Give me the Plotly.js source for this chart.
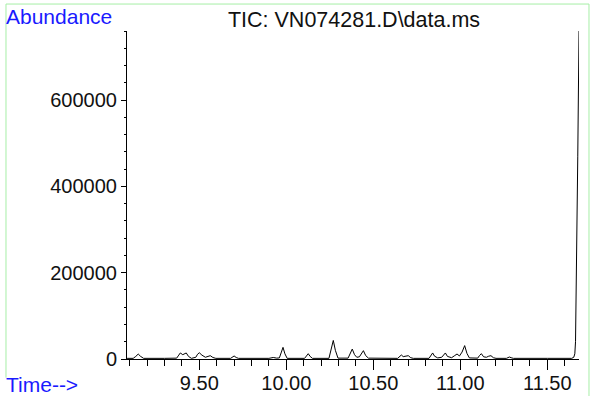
<!DOCTYPE html>
<html>
<head>
<meta charset="utf-8">
<script src="https://cdn.plot.ly/plotly-3.0.1.min.js"></script>
<style>
html,body{margin:0;padding:0;background:#fff;}
#chart{width:592px;height:396px;}
</style>
</head>
<body>
<div id="chart"></div>
<script>
// Retention time (min)
var time = [
  9.085, 9.120, 9.135, 9.149, 9.163, 9.180, 9.300,
  9.370, 9.382, 9.391, 9.405, 9.415, 9.425, 9.438, 9.455,
  9.480, 9.490, 9.500, 9.515, 9.535, 9.548, 9.563, 9.578, 9.595,
  9.680, 9.690, 9.700, 9.712, 9.725,
  9.900, 9.915, 9.925, 9.945,
  9.960, 9.970, 9.981, 9.992, 10.005,
  10.105, 10.115, 10.126, 10.137, 10.150,
  10.245, 10.258, 10.270, 10.282, 10.297,
  10.355, 10.367, 10.379, 10.392, 10.405, 10.420, 10.432, 10.443, 10.456, 10.472,
  10.640, 10.652, 10.661, 10.672, 10.682, 10.701, 10.715, 10.730,
  10.820, 10.831, 10.841, 10.852, 10.870, 10.893, 10.904, 10.914, 10.926,
  10.950, 10.968, 10.981, 10.995, 11.010, 11.025, 11.038, 11.052,
  11.100, 11.110, 11.121, 11.134, 11.150, 11.163, 11.176, 11.190, 11.205,
  11.265, 11.275, 11.282, 11.292, 11.305,
  11.500, 11.640, 11.652, 11.658, 11.662, 11.668, 11.675, 11.682
];
// Total ion current abundance
var abundance = [
  1500, 1500, 6000, 11500, 6000, 1500, 1500,
  2000, 9000, 14000, 10000, 12000, 14000, 6000, 1500,
  4000, 11000, 14500, 9000, 4000, 6000, 7700, 3500, 1500,
  1500, 4500, 7000, 3500, 1500,
  1500, 2500, 3500, 2000,
  2500, 14000, 27000, 12000, 1500,
  1500, 7000, 12300, 6000, 1500,
  1500, 20000, 43000, 20000, 2000,
  2000, 11000, 23000, 10000, 4000, 5000, 13000, 19300, 8000, 2000,
  1500, 6000, 9300, 5500, 6000, 7700, 3000, 1500,
  1500, 8000, 14000, 6500, 2500, 4000, 9000, 14000, 6000,
  3000, 8000, 11600, 7000, 16000, 31000, 13000, 2500,
  2000, 8000, 12300, 5000, 4000, 6500, 7700, 3000, 1500,
  1500, 3500, 4600, 3000, 1500,
  1500, 1500, 4000, 12000, 40000, 200000, 470000, 760000
];
var yTicks = [0, 200000, 400000, 600000];
var yTickLabels = ["0", "200000", "400000", "600000"];
var xTicks = [9.5, 10.0, 10.5, 11.0, 11.5];
var xTickLabels = ["9.50", "10.00", "10.50", "11.00", "11.50"];
var titleText = "TIC: VN074281.D\\data.ms";
var yLabel = "Abundance";
var xLabel = "Time-->";

var FONT = '"Liberation Sans", Arial, sans-serif';
var trace = {
  x: time, y: abundance, type: 'scatter', mode: 'lines',
  line: {color: '#000', width: 1}, hoverinfo: 'skip'
};
var green = '#a6eea6';
var layout = {
  width: 592, height: 396,
  margin: {l: 127, r: 13, t: 31, b: 37, pad: 0},
  paper_bgcolor: '#fff', plot_bgcolor: '#fff',
  showlegend: false,
  font: {family: FONT, size: 20, color: '#111'},
  title: {text: titleText, font: {family: FONT, size: 21.5, color: '#111'},
          x: 0.598, xref: 'container', xanchor: 'center',
          y: 0.952, yref: 'container', yanchor: 'middle'},
  xaxis: {
    range: [9.0845, 11.682], showgrid: false, zeroline: false,
    showline: true, linecolor: '#000', linewidth: 1,
    tickmode: 'array', tickvals: xTicks, ticktext: xTickLabels,
    ticks: 'outside', ticklen: 10, tickcolor: '#000', tickwidth: 1,
    ticklabelstandoff: -4,
    tickfont: {family: FONT, size: 20, color: '#111'},
    minor: {dtick: 0.1, tick0: 9.5, ticks: 'outside', ticklen: 6, tickcolor: '#000', tickwidth: 1, showgrid: false}
  },
  yaxis: {
    range: [0, 760000], showgrid: false, zeroline: false,
    showline: true, linecolor: '#000', linewidth: 1,
    tickmode: 'array', tickvals: yTicks, ticktext: yTickLabels,
    ticks: 'outside', ticklen: 5, tickcolor: '#000', tickwidth: 1,
    tickfont: {family: FONT, size: 20, color: '#111'},
    minor: {dtick: 40000, tick0: 0, ticks: 'outside', ticklen: 2, tickcolor: '#000', tickwidth: 1, showgrid: false}
  },
  annotations: [
    {text: yLabel, xref: 'paper', yref: 'paper', x: -0.2721, y: 1.0436,
     xanchor: 'left', yanchor: 'middle', showarrow: false,
     font: {family: FONT, size: 21, color: '#1a1aff'}},
    {text: xLabel, xref: 'paper', yref: 'paper', x: -0.2721, y: -0.0785,
     xanchor: 'left', yanchor: 'middle', showarrow: false,
     font: {family: FONT, size: 21, color: '#1a1aff'}}
  ],
  shapes: [
    {type: 'line', xref: 'paper', yref: 'paper', x0: -0.2677, x1: -0.2677, y0: 1.0822, y1: -0.057, line: {color: green, width: 1}},
    {type: 'line', xref: 'paper', yref: 'paper', x0: -0.2677, x1: 1.0221, y0: 1.0822, y1: 1.0822, line: {color: green, width: 1}},
    {type: 'line', xref: 'paper', yref: 'paper', x0: 1.0221, x1: 1.0221, y0: 1.0822, y1: -0.12, line: {color: green, width: 1}}
  ]
};
Plotly.newPlot('chart', [trace], layout, {displayModeBar: false, staticPlot: true});
</script>
</body>
</html>
